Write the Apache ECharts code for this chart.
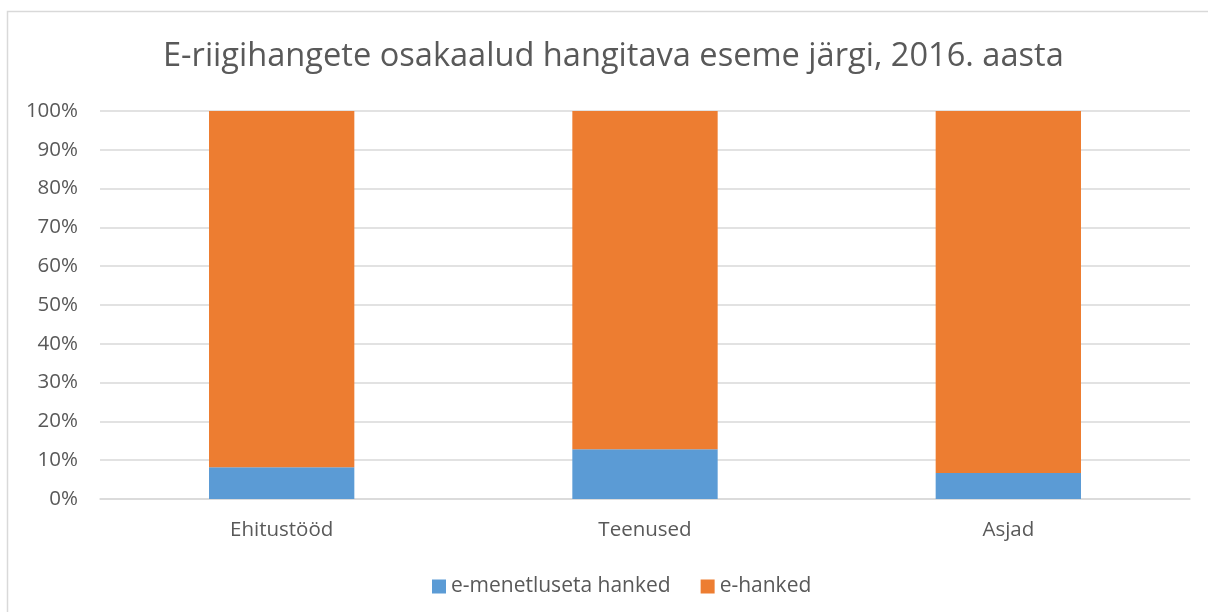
<!DOCTYPE html>
<html>
<head>
<meta charset="utf-8">
<script src="https://cdn.jsdelivr.net/npm/echarts@6/dist/echarts.min.js"></script>
<style>
  html, body { margin: 0; padding: 0; background: #fff; }
  #chart { width: 1208px; height: 612px; }
</style>
</head>
<body>
<div id="chart"></div>
<script>
const categories = ["Ehitustööd", "Teenused", "Asjad"];
const eMenetluseta = [8.2, 12.8, 6.7];
const eHanked = [91.8, 87.2, 93.3];
const seriesNames = ["e-menetluseta hanked", "e-hanked"];

const font = "Open Sans";
const textColor = "#595959";

const chart = echarts.init(document.getElementById("chart"));
chart.setOption({
  animation: false,
  textStyle: { fontFamily: font },
  graphic: [
    {
      type: "rect",
      shape: { x: 7.5, y: 11.5, width: 1400, height: 800 },
      style: { fill: "none", stroke: "#d9d9d9", lineWidth: 1.5 },
      silent: true
    }
  ],
  title: {
    text: "E-riigihangete osakaalud hangitava eseme järgi, 2016. aasta",
    left: 163,
    top: 40,
    padding: 0,
    textStyle: { fontFamily: font, fontSize: 32.6, fontWeight: "normal", color: textColor }
  },
  legend: {
    data: seriesNames,
    bottom: 10,
    left: 427,
    itemWidth: 14,
    itemHeight: 14,
    itemGap: 30,
    icon: "rect",
    textStyle: { fontFamily: font, fontSize: 21, color: textColor }
  },
  grid: { left: 100, right: 18, top: 111, bottom: 113 },
  xAxis: {
    type: "category",
    data: categories,
    axisLine: { lineStyle: { color: "#d9d9d9", width: 1.5 } },
    axisTick: { show: false },
    axisLabel: { fontFamily: font, fontSize: 20.5, color: textColor, margin: 21 }
  },
  yAxis: {
    type: "value",
    min: 0,
    max: 100,
    interval: 10,
    axisLine: { show: false },
    axisTick: { show: false },
    splitLine: { lineStyle: { color: "#d9d9d9", width: 1.5 } },
    axisLabel: { fontFamily: font, fontSize: 20.5, color: textColor, margin: 22, formatter: "{value}%" }
  },
  series: [
    {
      name: seriesNames[0],
      type: "bar",
      stack: "total",
      barWidth: "40%",
      data: eMenetluseta,
      itemStyle: { color: "#5b9bd5" }
    },
    {
      name: seriesNames[1],
      type: "bar",
      stack: "total",
      barWidth: "40%",
      data: eHanked,
      itemStyle: { color: "#ed7d31" }
    }
  ]
});
</script>
</body>
</html>
